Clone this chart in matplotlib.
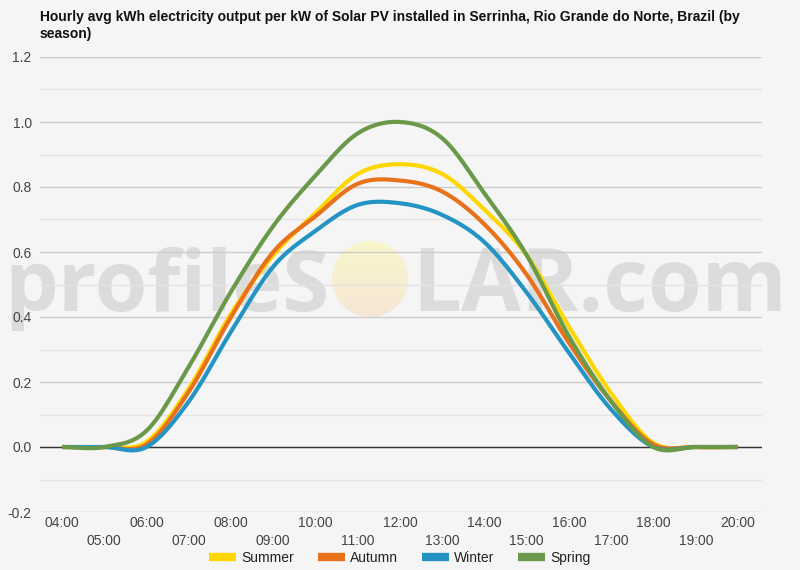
import numpy as np
import matplotlib
matplotlib.use("Agg")
import matplotlib.pyplot as plt
from matplotlib.lines import Line2D
from matplotlib.patches import Circle

# ---------------- data ----------------
hours = list(range(4, 21))
hour_labels = [f"{h:02d}:00" for h in hours]
series_names = ["Summer", "Autumn", "Winter", "Spring"]
summer = [0, 0, 0.016, 0.18, 0.41, 0.59, 0.72, 0.84, 0.87, 0.84, 0.73, 0.59, 0.37, 0.165, 0.012, 0, 0]
autumn = [0, 0, 0.008, 0.17, 0.40, 0.60, 0.71, 0.81, 0.82, 0.786, 0.685, 0.53, 0.32, 0.14, 0.008, 0, 0]
winter = [0, 0, 0, 0.14, 0.355, 0.555, 0.665, 0.745, 0.75, 0.714, 0.63, 0.475, 0.29, 0.115, 0, 0, 0]
spring = [0, 0, 0.05, 0.247, 0.478, 0.68, 0.835, 0.965, 1.0, 0.95, 0.78, 0.59, 0.34, 0.14, 0, 0, 0]
y_ticks = [-0.2, 0.0, 0.2, 0.4, 0.6, 0.8, 1.0, 1.2]
title = ("Hourly avg kWh electricity output per kW of Solar PV installed in Serrinha, "
         "Rio Grande do Norte, Brazil (by\nseason)")

colors = ["#ffd700", "#e8711c", "#2394c4", "#6a994a"]
values = [summer, autumn, winter, spring]


def smooth(x, y, n=24):
    """Cubic Hermite (Catmull-Rom) curve through the points, for drawing."""
    x = np.asarray(x, float)
    y = np.asarray(y, float)
    m = np.zeros_like(y)
    m[1:-1] = (y[2:] - y[:-2]) / (x[2:] - x[:-2])
    m[0] = (y[1] - y[0]) / (x[1] - x[0])
    m[-1] = (y[-1] - y[-2]) / (x[-1] - x[-2])
    xs, ys = [], []
    for i in range(len(x) - 1):
        h = x[i + 1] - x[i]
        t = np.linspace(0, 1, n, endpoint=False)
        h00 = 2 * t**3 - 3 * t**2 + 1
        h10 = t**3 - 2 * t**2 + t
        h01 = -2 * t**3 + 3 * t**2
        h11 = t**3 - t**2
        xs.append(x[i] + t * h)
        ys.append(h00 * y[i] + h10 * h * m[i] + h01 * y[i + 1] + h11 * h * m[i + 1])
    xs.append([x[-1]])
    ys.append([y[-1]])
    return np.concatenate(xs), np.concatenate(ys)


W, H = 800, 570
BG = "#f5f5f5"
plt.rcParams["font.family"] = ["Liberation Sans", "DejaVu Sans"]

fig = plt.figure(figsize=(W / 100, H / 100), dpi=100, facecolor=BG)

# ---------------- watermark ----------------
wm_color = "#dcdcdc"
base_y = 1 - 311 / H
t1 = fig.text(330 / W, base_y, "profileS", ha="right", va="baseline", fontweight="bold",
              fontsize=60, color=wm_color, family="Open Sans", zorder=-2)
t2 = fig.text(412 / W, base_y, "LAR.com", ha="left", va="baseline", fontweight="bold",
              fontsize=60, color=wm_color, family="Open Sans", zorder=-2)
r = fig.canvas.get_renderer()
w1 = t1.get_window_extent(r).width
w2 = t2.get_window_extent(r).width
t1.set_fontsize(60 * 325 / w1)
t2.set_fontsize(60 * 375 / w2)

# sun circle with soft gradient
cx, cy, rad = 370, 279, 38
sun_ax = fig.add_axes([(cx - rad) / W, 1 - (cy + rad) / H, 2 * rad / W, 2 * rad / H], zorder=-1)
sun_ax.set_axis_off()
grad = np.linspace(0, 1, 100)[:, None]
top = np.array([0.973, 0.965, 0.800])
bot = np.array([0.965, 0.905, 0.835])
img = top[None, None, :] * (1 - grad[..., None]) + bot[None, None, :] * grad[..., None]
img = np.repeat(img, 100, axis=1)
im = sun_ax.imshow(img, extent=(0, 1, 0, 1), aspect="auto", origin="upper")
circ = Circle((0.5, 0.5), 0.5, transform=sun_ax.transAxes)
im.set_clip_path(circ)
sun_ax.patch.set_alpha(0)

# ---------------- main axes ----------------
left, right, top_px, bottom_px = 40, 762, 57, 512
ax = fig.add_axes([left / W, 1 - bottom_px / H, (right - left) / W, (bottom_px - top_px) / H])
ax.set_facecolor("none")
ax.set_xlim(3.479, 20.568)
ax.set_ylim(-0.2, 1.2)

for s in ax.spines.values():
    s.set_visible(False)

ax.set_yticks(y_ticks)
ax.set_yticklabels([f"{v:.1f}" for v in y_ticks])
ax.set_yticks(np.arange(-0.1, 1.2, 0.2), minor=True)
ax.grid(True, axis="y", which="major", color="#cccccc", lw=1)
ax.grid(True, axis="y", which="minor", color="#e4e4e4", lw=1)
ax.axhline(0, color="#333333", lw=1, zorder=2)

even = [h for h in hours if h % 2 == 0]
odd = [h for h in hours if h % 2 == 1]
ax.set_xticks(even)
ax.set_xticklabels([hour_labels[hours.index(h)] for h in even])
ax.set_xticks(odd, minor=True)
ax.set_xticklabels([hour_labels[hours.index(h)] for h in odd], minor=True)
ax.tick_params(axis="x", which="major", length=0, pad=3, labelsize=10, labelcolor="#444444")
ax.tick_params(axis="x", which="minor", length=0, pad=16, labelsize=10, labelcolor="#444444")
ax.tick_params(axis="y", which="both", length=0, pad=6, labelsize=10, labelcolor="#444444")

for name, vals, c in zip(series_names, values, colors):
    xs, ys = smooth(hours, vals)
    ax.plot(xs, ys, color=c, lw=3, solid_capstyle="butt", solid_joinstyle="round", zorder=3, label=name)

# ---------------- title ----------------
fig.text(40 / W, 1 - 10 / H, title, ha="left", va="top", fontsize=10, fontweight="bold",
         color="#111111", linespacing=1.3)

# ---------------- legend ----------------
handles = [Line2D([0], [0], color=c, lw=6, solid_capstyle="butt") for c in colors]
fig.legend(handles, series_names, loc="center", bbox_to_anchor=(400 / W, 1 - 558 / H),
           ncol=4, frameon=False, fontsize=10, handlelength=1.95, handletextpad=0.4,
           columnspacing=1.68, borderpad=0, labelcolor="#222222")

fig.savefig("out.png", dpi=100, facecolor=BG)
